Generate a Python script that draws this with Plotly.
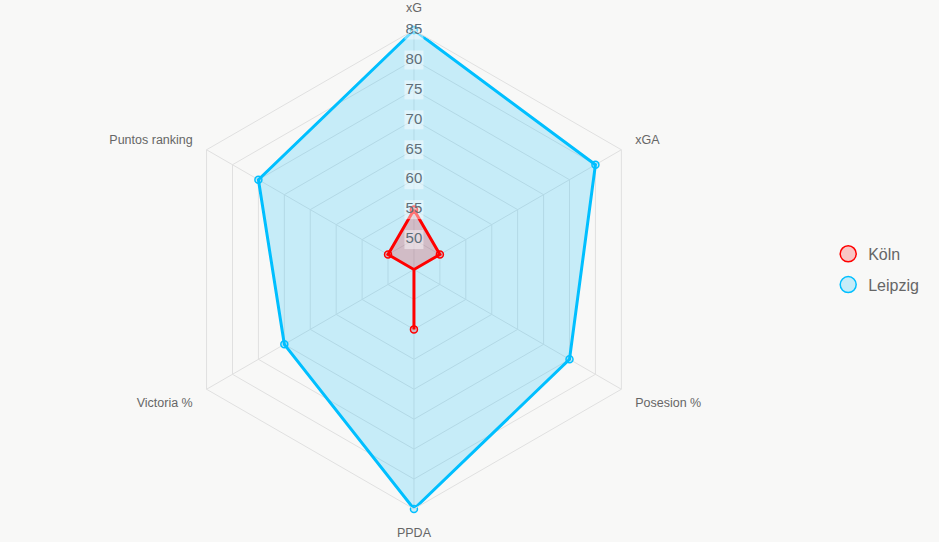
import plotly.graph_objects as go

categories = ["xG", "xGA", "Posesion %", "PPDA", "Victoria %", "Puntos ranking"]
koln = [55, 50, 45, 55, 45, 50]
leipzig = [85, 80, 75, 85, 70, 75]
radial_ticks = [50, 55, 60, 65, 70, 75, 80, 85]
series_names = ["Köln", "Leipzig"]

LINE_COLORS = ["#ff0000", "#00bfff"]
FILL_COLORS = ["rgba(255,0,0,0.2)", "rgba(0,191,255,0.2)"]

fig = go.Figure()

for name, vals, lc, fc in [(series_names[1], leipzig, LINE_COLORS[1], FILL_COLORS[1]),
                           (series_names[0], koln, LINE_COLORS[0], FILL_COLORS[0])]:
    fig.add_trace(go.Scatterpolar(
        r=vals + vals[:1], theta=categories + categories[:1],
        mode="lines+markers", fill="toself", fillcolor=fc,
        line=dict(color=lc, width=3),
        marker=dict(symbol="circle", size=7, color=fc, line=dict(color=lc, width=1.5)),
        name=name, showlegend=False, hoverinfo="skip",
    ))

# radial tick labels along the xG spoke
fig.add_trace(go.Scatterpolar(
    r=radial_ticks, theta=[categories[0]] * len(radial_ticks),
    mode="markers+text", text=[str(t) for t in radial_ticks],
    textposition="middle center",
    textfont=dict(family="Liberation Sans, Arial, sans-serif", size=15, color="#5d6e78"),
    marker=dict(symbol="square", size=19, color="rgba(255,255,255,0.45)", line=dict(width=0)),
    showlegend=False, hoverinfo="skip",
))

# legend entries
for name, lc, fc in zip(series_names, LINE_COLORS, FILL_COLORS):
    fig.add_trace(go.Scatterpolar(
        r=[None], theta=[None], mode="markers", name=name, legendgroup=name,
        marker=dict(symbol="circle", size=16, color=fc, line=dict(color=lc, width=1.5)),
        hoverinfo="skip",
    ))

grid = "#e0e0e0"
fig.update_layout(
    width=939, height=542,
    paper_bgcolor="#f8f8f7", plot_bgcolor="#f8f8f7",
    margin=dict(l=0, r=0, t=0, b=0),
    font=dict(family="Liberation Sans, Arial, sans-serif", color="#666666"),
    polar=dict(
        bgcolor="rgba(0,0,0,0)",
        gridshape="linear",
        domain=dict(x=[0.1857, 0.696], y=[0.0609, 0.9446]),
        radialaxis=dict(range=[45, 85], tickvals=radial_ticks, showticklabels=False,
                        gridcolor=grid, showline=False, ticks="", angle=90),
        angularaxis=dict(rotation=90, direction="clockwise", gridcolor=grid,
                         linecolor=grid, ticks="outside", ticklen=13,
                         tickcolor="rgba(0,0,0,0)", showline=True,
                         tickfont=dict(size=12.5, color="#666666")),
    ),
    legend=dict(x=0.882, y=0.503, xanchor="left", yanchor="middle",
                font=dict(size=16, color="#666666"), bgcolor="rgba(0,0,0,0)",
                itemsizing="trace", traceorder="grouped", tracegroupgap=7),
)

fig.write_html("out.html")
